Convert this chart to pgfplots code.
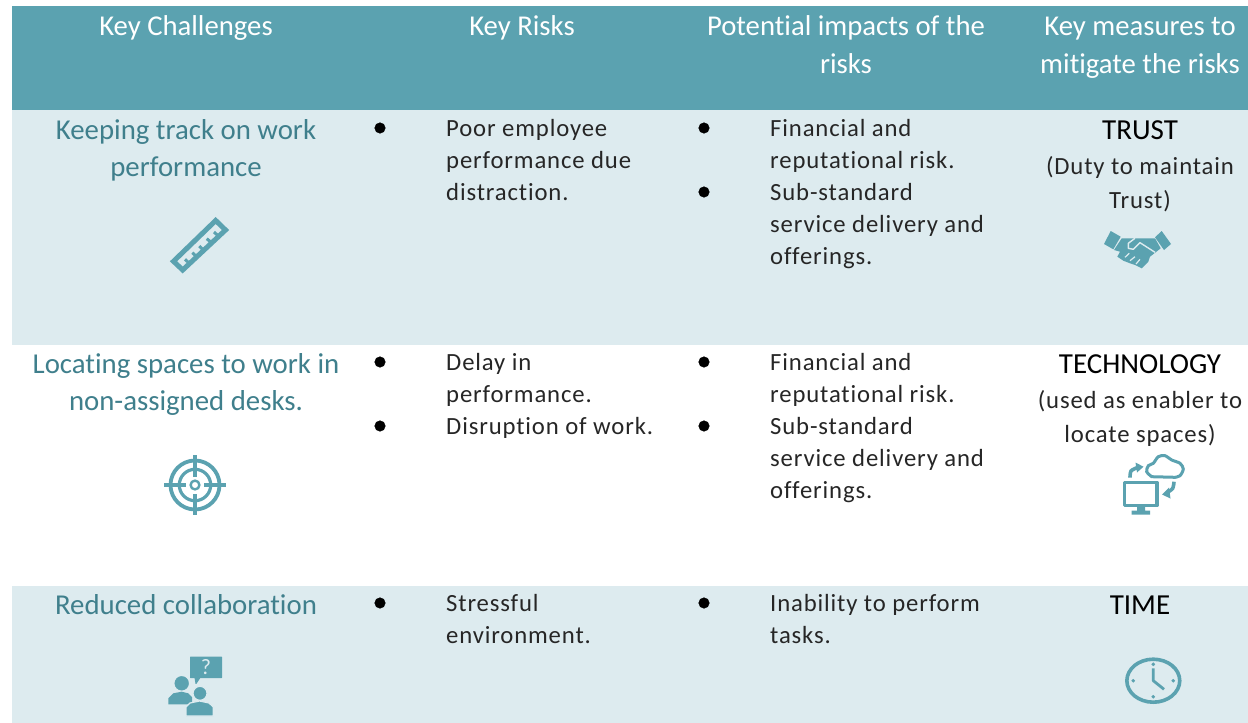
\documentclass[border=0pt]{standalone}
\usepackage{pgfplots}
\usepackage{fontspec}
\pgfplotsset{compat=1.18}
\setmainfont[Ligatures=NoCommon]{Carlito}
\newfontfamily\bodyfont[LetterSpace=3.5,Ligatures=NoCommon]{Carlito}
\definecolor{head}{HTML}{5BA2B0}
\definecolor{light}{HTML}{DDEBEF}
\definecolor{dark}{HTML}{3F7F8C}
\begin{document}
\begin{tikzpicture}[
  hd/.style={anchor=base,text=white,inner sep=0pt,font=\fontsize{28.7}{28.7}\selectfont},
  ch/.style={anchor=base,text=dark,inner sep=0pt,font=\fontsize{28.8}{28.8}\selectfont},
  ms/.style={anchor=base,text=black,inner sep=0pt,font=\fontsize{29}{29}\selectfont},
  mb/.style={anchor=base,text=black!85,inner sep=0pt,font=\bodyfont\fontsize{24.7}{24.7}\selectfont},
  bd/.style={anchor=base west,text=black!85,inner sep=0pt,font=\bodyfont\fontsize{24.7}{24.7}\selectfont}]
\begin{axis}[scale only axis,width=1248pt,height=723pt,xmin=0,xmax=1248,ymin=0,ymax=723,y dir=reverse,hide axis,clip=true]
% page background keeps the whole extent in the picture
\addplot[fill=white,draw=none] coordinates {(0,0)(1248,0)(1248,723)(0,723)} -- cycle;
% panels
\addplot[fill=head,draw=none] coordinates {(12,6)(1248,6)(1248,110)(12,110)} -- cycle;
\addplot[fill=light,draw=none] coordinates {(12,110)(1248,110)(1248,345)(12,345)} -- cycle;
\addplot[fill=light,draw=none] coordinates {(12,586)(1248,586)(1248,723)(12,723)} -- cycle;
% bullets
\addplot[only marks,mark=*,mark size=5.3pt,black] coordinates {(380,128)(704,128)(704,192)(380,362)(380,426)(704,362)(704,426)(380,603)(704,603)};
% ruler
\addplot[draw=head,line width=5pt,line join=miter] coordinates {(215.7,220.5)(225.5,230)(182.7,270)(173.5,261.3)} -- cycle;
\addplot[draw=head,line width=3pt] coordinates {(189.3,263.3)(185,259.3)};
\addplot[draw=head,line width=3pt] coordinates {(196.7,256.7)(192.3,252.7)};
\addplot[draw=head,line width=3pt] coordinates {(203.3,250)(199.3,246)};
\addplot[draw=head,line width=3pt] coordinates {(211.7,242.7)(206.7,238.7)};
\addplot[draw=head,line width=3pt] coordinates {(218.3,236)(214,232)};
% target
\addplot[only marks,mark=o,mark size=24.5pt,mark options={draw=head,line width=3.8pt}] coordinates {(195,485)};
\addplot[only marks,mark=o,mark size=15.7pt,mark options={draw=head,line width=3.2pt}] coordinates {(195,485)};
\addplot[only marks,mark=o,mark size=4.4pt,mark options={draw=head,line width=2.4pt}] coordinates {(195,485)};
\addplot[draw=head,line width=3.2pt] coordinates {(164,485)(186,485)};
\addplot[draw=head,line width=3.2pt] coordinates {(204,485)(226,485)};
\addplot[draw=head,line width=3.2pt] coordinates {(195,455)(195,477)};
\addplot[draw=head,line width=3.2pt] coordinates {(195,494)(195,515)};
% group icon
\addplot[fill=head,draw=head,line width=1pt,line join=round] coordinates {(190.5,657)(221.5,657)(221.5,677.5)(200,677.5)(196,683.5)(195,677.5)(190.5,677.5)} -- cycle;
\addplot[only marks,mark=*,mark size=6.9pt,mark options={fill=head,draw=head}] coordinates {(181.7,683.3)};
\addplot[fill=head,draw=none] coordinates {(168.3,704.3)(168.3,698.3)(173.3,693.3)(181.7,691.7)(188.3,693.3)(192,697)(192,704.3)} -- cycle;
\addplot[only marks,mark=*,mark size=7pt,mark options={fill=head,draw=light,line width=1.2pt}] coordinates {(200,693.3)};
\addplot[fill=head,draw=light,line width=1.2pt] coordinates {(186,716)(186,707)(190,703)(199.6,701)(209,703)(213.3,707)(213.3,716)} -- cycle;
% handshake
\addplot[fill=head,draw=none] coordinates {(1110.7,231)(1120.7,236.7)(1113.3,249.3)(1104,244)} -- cycle;
\addplot[fill=head,draw=none] coordinates {(1161.7,231)(1171,244)(1164,250)(1155,237.3)} -- cycle;
\addplot[fill=head,draw=none] coordinates {(1121.7,238.3)(1155,238.3)(1160.7,248.3)(1150,256.7)(1148.3,261.7)(1141.7,268.3)(1135,265)(1130,263.3)(1123.3,260.7)(1117.3,256.7)(1120,251.7)(1114,250)} -- cycle;
\addplot[draw=light,line width=1.4pt,line join=round] coordinates {(1135,238.3)(1128.3,243.3)(1128.3,248.3)(1133.3,249.3)(1140,242.7)(1155,252.3)};
\addplot[draw=light,line width=1.2pt] coordinates {(1125,257.3)(1129.3,253.3)};
\addplot[draw=light,line width=1.2pt] coordinates {(1130,260.7)(1135,256.7)};
\addplot[draw=light,line width=1.2pt] coordinates {(1136,264)(1140,259.3)};
% technology icon
\addplot[draw=head,line width=3.6pt,line join=round] coordinates {(1124.5,482.5)(1157,482.5)(1157,505.5)(1124.5,505.5)} -- cycle;
\addplot[fill=head,draw=none] coordinates {(1137,506)(1145,506)(1145,510.7)(1150,510.7)(1150,514.5)(1131.7,514.5)(1131.7,510.7)(1137,510.7)} -- cycle;
\addplot[smooth,draw=head,line width=3pt] coordinates {(1151.7,476.7)(1146.7,471.7)(1148.3,465.7)(1153.3,463.3)(1158.3,456.7)(1165,455.7)(1171.7,460)(1180,463.3)(1183.3,469)(1180,475.7)(1175,477.3)} -- cycle;
\addplot[smooth,draw=head,line width=3.6pt] coordinates {(1130,477.7)(1131,471)(1137,467.7)};
\addplot[fill=head,draw=none] coordinates {(1135.5,462.5)(1143.5,466.7)(1137,472.5)} -- cycle;
\addplot[smooth,draw=head,line width=3.6pt] coordinates {(1174,481.7)(1172.7,488.3)(1167.5,492.3)};
\addplot[fill=head,draw=none] coordinates {(1162,494.5)(1169,487.5)(1170.5,498.5)} -- cycle;
% clock
\addplot[only marks,mark=o,mark size=21.5pt,mark options={draw=head,line width=3.6pt,xscale=1.23}] coordinates {(1153.3,680.7)};
\addplot[only marks,mark=*,mark size=1.6pt,mark options={fill=head,draw=head}] coordinates {(1153.3,664.3)(1153.3,696.7)(1133.3,680.7)(1173.3,680.7)};
\addplot[draw=head,line width=2.8pt,line join=round] coordinates {(1153.3,668.3)(1153.3,680.7)(1164,689.3)};
% question mark
\node[anchor=center,text=light,inner sep=0pt,font=\fontsize{22}{22}\selectfont] at (axis cs:206,667.5) {?};
% header
\node[hd] at (axis cs:186,35) {Key Challenges};
\node[hd] at (axis cs:522,35) {Key Risks};
\node[hd] at (axis cs:846,35) {Potential impacts of the};
\node[hd] at (axis cs:846,73) {risks};
\node[hd] at (axis cs:1140,35) {Key measures to};
\node[hd] at (axis cs:1140,73) {mitigate the risks};
% challenges
\node[ch] at (axis cs:186,139) {Keeping track on work};
\node[ch] at (axis cs:186,176) {performance};
\node[ch] at (axis cs:186,373) {Locating spaces to work in};
\node[ch] at (axis cs:186,410) {non-assigned desks.};
\node[ch] at (axis cs:186,614) {Reduced collaboration};
% risks
\node[bd] at (axis cs:446,136) {Poor employee};
\node[bd] at (axis cs:446,168) {performance due};
\node[bd] at (axis cs:446,200) {distraction.};
\node[bd] at (axis cs:446,370) {Delay in};
\node[bd] at (axis cs:446,402) {performance.};
\node[bd] at (axis cs:446,434) {Disruption of work.};
\node[bd] at (axis cs:446,611) {Stressful};
\node[bd] at (axis cs:446,643) {environment.};
% impacts
\node[bd] at (axis cs:770,136) {Financial and};
\node[bd] at (axis cs:770,168) {reputational risk.};
\node[bd] at (axis cs:770,200) {Sub-standard};
\node[bd] at (axis cs:770,232) {service delivery and};
\node[bd] at (axis cs:770,264) {offerings.};
\node[bd] at (axis cs:770,370) {Financial and};
\node[bd] at (axis cs:770,402) {reputational risk.};
\node[bd] at (axis cs:770,434) {Sub-standard};
\node[bd] at (axis cs:770,466) {service delivery and};
\node[bd] at (axis cs:770,498) {offerings.};
\node[bd] at (axis cs:770,611) {Inability to perform};
\node[bd] at (axis cs:770,643) {tasks.};
% measures
\node[ms] at (axis cs:1140,139) {TRUST};
\node[mb] at (axis cs:1140,174) {(Duty to maintain};
\node[mb] at (axis cs:1140,208) {Trust)};
\node[ms] at (axis cs:1140,373) {TECHNOLOGY};
\node[mb] at (axis cs:1140,408) {(used as enabler to};
\node[mb] at (axis cs:1140,442) {locate spaces)};
\node[ms] at (axis cs:1140,614) {TIME};
\end{axis}
\end{tikzpicture}
\end{document}
